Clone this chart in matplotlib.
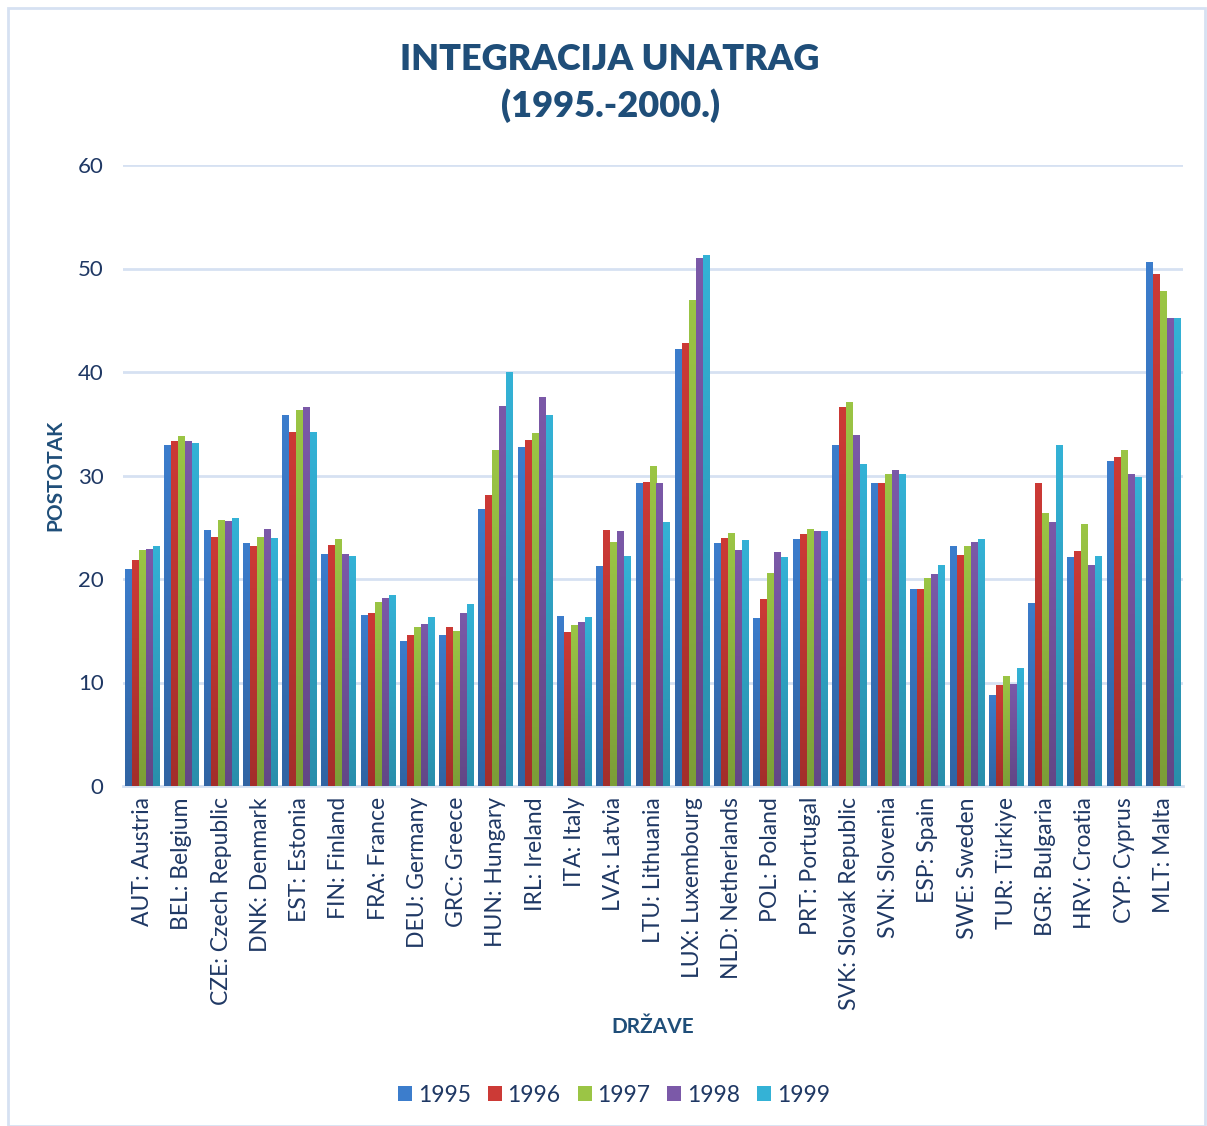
import matplotlib
matplotlib.use("Agg")
import matplotlib.pyplot as plt
import numpy as np
from matplotlib.patches import Rectangle
from matplotlib.colors import to_rgb

countries = ["AUT: Austria", "BEL: Belgium", "CZE: Czech Republic", "DNK: Denmark",
             "EST: Estonia", "FIN: Finland", "FRA: France", "DEU: Germany", "GRC: Greece",
             "HUN: Hungary", "IRL: Ireland", "ITA: Italy", "LVA: Latvia", "LTU: Lithuania",
             "LUX: Luxembourg", "NLD: Netherlands", "POL: Poland", "PRT: Portugal",
             "SVK: Slovak Republic", "SVN: Slovenia", "ESP: Spain", "SWE: Sweden",
             "TUR: Türkiye", "BGR: Bulgaria", "HRV: Croatia", "CYP: Cyprus", "MLT: Malta"]
years = ["1995", "1996", "1997", "1998", "1999"]

v1995 = [21.0, 32.9, 24.7, 23.5, 35.8, 22.4, 16.5, 14.0, 14.6, 26.8, 32.8, 16.4, 21.3, 29.3,
         42.2, 23.5, 16.2, 23.9, 32.9, 29.3, 19.0, 23.2, 8.8, 17.7, 22.1, 31.4, 50.6]
v1996 = [21.8, 33.3, 24.1, 23.2, 34.2, 23.3, 16.7, 14.6, 15.4, 28.1, 33.4, 14.9, 24.7, 29.4,
         42.8, 24.0, 18.1, 24.3, 36.6, 29.3, 19.0, 22.3, 9.8, 29.3, 22.7, 31.8, 49.5]
v1997 = [22.8, 33.8, 25.7, 24.1, 36.3, 23.9, 17.8, 15.4, 15.0, 32.5, 34.1, 15.6, 23.6, 30.9,
         47.0, 24.4, 20.6, 24.8, 37.1, 30.1, 20.1, 23.2, 10.6, 26.4, 25.3, 32.5, 47.8]
v1998 = [22.9, 33.3, 25.6, 24.8, 36.6, 22.4, 18.2, 15.7, 16.7, 36.7, 37.6, 15.8, 24.6, 29.3,
         51.0, 22.8, 22.6, 24.6, 33.9, 30.5, 20.5, 23.6, 9.9, 25.5, 21.4, 30.1, 45.2]
v1999 = [23.2, 33.1, 25.9, 24.0, 34.2, 22.2, 18.5, 16.3, 17.6, 40.0, 35.8, 16.3, 22.2, 25.5,
         51.3, 23.8, 22.1, 24.6, 31.1, 30.1, 21.4, 23.9, 11.4, 32.9, 22.2, 29.9, 45.2]
series = [v1995, v1996, v1997, v1998, v1999]
colors = ["#3C7DCC", "#CC3A36", "#9BC545", "#7B59A8", "#34B2D6"]

TXT = "#1F3864"
TITLE = "#1F4E79"
FONT = ["Lato", "DejaVu Sans"]
plt.rcParams["font.family"] = FONT

fig = plt.figure(figsize=(12.07, 11.26), dpi=100)
ax = fig.add_axes([123/1207, 1 - 786/1126, (1183-123)/1207, (786-165)/1126])

x = np.arange(len(countries))
w = 0.178
grad = np.linspace(0, 1, 64).reshape(-1, 1)
for i, (vals, c) in enumerate(zip(series, colors)):
    bars = ax.bar(x + (i - 2) * w, vals, width=w, color=c, label=years[i], zorder=3,
                  linewidth=0)
    top = np.array(to_rgb(c))
    bot = top * 0.8
    img = bot[None, None, :] * (1 - grad[:, :, None]) + top[None, None, :] * grad[:, :, None]
    for b in bars:
        bx, by = b.get_x(), b.get_height()
        im = ax.imshow(img, extent=(bx, bx + b.get_width(), 0, by), origin="lower",
                       aspect="auto", zorder=3.5, interpolation="bilinear")
        im.set_clip_path(b)

ax.set_xlim(-0.5, len(countries) - 0.5)
ax.set_ylim(0, 60)
ax.set_yticks(range(0, 61, 10))
ax.yaxis.grid(True, color="#D6E1F2", linewidth=2, zorder=0)
for s in ["top", "right", "left"]:
    ax.spines[s].set_visible(False)
ax.spines["bottom"].set_color("#D6E1F2")
ax.spines["bottom"].set_linewidth(2)
ax.tick_params(axis="y", length=0, labelsize=16, labelcolor=TXT, pad=14)
ax.tick_params(axis="x", length=0, labelsize=16.5, labelcolor=TXT, pad=8)
ax.set_xticks(x)
ax.set_xticklabels(countries, rotation=90)

ax.set_ylabel("POSTOTAK", fontsize=15, fontweight="bold", color=TITLE, labelpad=9)
ax.set_xlabel("DRŽAVE", fontsize=15, fontweight="bold", color=TITLE, labelpad=5)

fig.text(610/1207, 1 - 83/1126, "INTEGRACIJA UNATRAG\n(1995.-2000.)", ha="center",
         va="center", fontsize=26, fontweight="heavy", color=TITLE, linespacing=1.4)

leg = ax.legend(loc="center", bbox_to_anchor=(614/1207, 1 - 1095/1126),
                bbox_transform=fig.transFigure, ncol=5, frameon=False, fontsize=16.5,
                handlelength=0.6, handleheight=0.6, handletextpad=0.25, columnspacing=0.75)
for t in leg.get_texts():
    t.set_color(TXT)

fig.patches.append(Rectangle((8/1207, 0), 1197/1207, 1 - 8/1126, transform=fig.transFigure,
                             fill=False, edgecolor="#D6E1F2", linewidth=2))

fig.savefig("out.png", dpi=100)
